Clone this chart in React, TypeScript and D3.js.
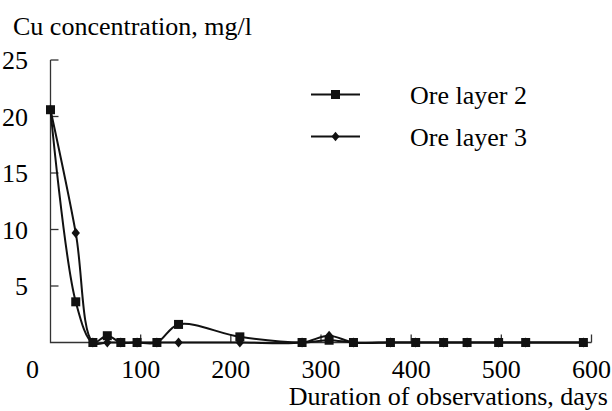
import React, { useEffect, useRef } from 'react'
import * as d3 from 'd3'

// observation days and Cu concentration, mg/l
const days = [0, 28, 47, 63, 78, 96, 118, 142, 210, 279, 309, 336, 377, 405, 436, 462, 497, 527, 591]
const layer2 = [20.6, 3.6, 0, 0.6, 0, 0, 0, 1.6, 0.5, 0, 0.2, 0, 0, 0, 0, 0, 0, 0, 0]
const layer3 = [20.6, 9.7, 0, 0, 0, 0, 0, 0, 0, 0, 0.6, 0, 0, 0, 0, 0, 0, 0, 0]

const xTicks = [0, 100, 200, 300, 400, 500, 600]
const yTicks = [5, 10, 15, 20, 25]
const seriesNames = ['Ore layer 2', 'Ore layer 3']

const W = 612
const H = 411
const x0 = 50.5, x1 = 591.5
const yBottom = 342.5, yTop = 60
const font = '"Liberation Serif", "Times New Roman", serif'
const fs = 26

const App = () => {
  const ref = useRef<SVGSVGElement>(null)

  useEffect(() => {
    if (!ref.current) return
    const svg = d3.select(ref.current)
    svg.selectAll('*').remove()

    const x = d3.scaleLinear().domain([0, 600]).range([x0, x1])
    const y = d3.scaleLinear().domain([0, 25]).range([yBottom, yTop])

    const axisColor = '#333'

    // axis lines
    svg.append('path')
      .attr('d', `M${x0},${yTop}V${yBottom}H${x1}`)
      .attr('fill', 'none')
      .attr('stroke', axisColor)
      .attr('stroke-width', 1.3)

    // y ticks (inward)
    svg.selectAll('.yt')
      .data(yTicks)
      .enter()
      .append('line')
      .attr('x1', x0)
      .attr('x2', x0 + 8)
      .attr('y1', d => y(d))
      .attr('y2', d => y(d))
      .attr('stroke', axisColor)
      .attr('stroke-width', 1.3)

    svg.selectAll('.yl')
      .data(yTicks)
      .enter()
      .append('text')
      .attr('x', 28)
      .attr('y', d => y(d))
      .attr('dy', '0.35em')
      .attr('text-anchor', 'end')
      .style('font-family', font)
      .style('font-size', fs + 'px')
      .text(d => d)

    // x ticks (inward)
    svg.selectAll('.xt')
      .data(xTicks.slice(1))
      .enter()
      .append('line')
      .attr('x1', d => x(d))
      .attr('x2', d => x(d))
      .attr('y1', yBottom)
      .attr('y2', yBottom - 8)
      .attr('stroke', axisColor)
      .attr('stroke-width', 1.3)

    svg.selectAll('.xl')
      .data(xTicks)
      .enter()
      .append('text')
      .attr('x', d => (d === 0 ? x(d) - 18 : x(d)))
      .attr('y', 378)
      .attr('text-anchor', 'middle')
      .style('font-family', font)
      .style('font-size', fs + 'px')
      .text(d => d)

    // axis titles
    svg.append('text')
      .attr('x', 13)
      .attr('y', 35)
      .style('font-family', font)
      .style('font-size', fs + 'px')
      .text('Cu concentration, mg/l')

    svg.append('text')
      .attr('x', 608)
      .attr('y', 405)
      .attr('text-anchor', 'end')
      .style('font-family', font)
      .style('font-size', fs + 'px')
      .text('Duration of observations, days')

    const curve = d3.curveCatmullRom.alpha(0.5)
    const pts2 = days.map((d, i) => [x(d), y(layer2[i])] as [number, number])
    const pts3 = days.map((d, i) => [x(d), y(layer3[i])] as [number, number])

    svg.append('path')
      .attr('d', d3.line().curve(curve)(pts3))
      .attr('fill', 'none')
      .attr('stroke', '#111')
      .attr('stroke-width', 2)

    svg.append('path')
      .attr('d', d3.line().curve(curve)(pts2))
      .attr('fill', 'none')
      .attr('stroke', '#111')
      .attr('stroke-width', 2)

    const diamond = (s: number) => `M0,${-s * 1.2}L${s},0L0,${s * 1.2}L${-s},0Z`

    svg.selectAll('.dm')
      .data(pts3)
      .enter()
      .append('path')
      .attr('d', diamond(4.2))
      .attr('transform', d => `translate(${d[0]},${d[1]})`)
      .attr('fill', '#111')

    svg.selectAll('.sq')
      .data(pts2)
      .enter()
      .append('rect')
      .attr('x', d => d[0] - 4.5)
      .attr('y', d => d[1] - 4.5)
      .attr('width', 9)
      .attr('height', 9)
      .attr('fill', '#111')

    // legend
    const lg = svg.append('g')
    seriesNames.forEach((name, i) => {
      const ly = 94.5 + i * 42
      lg.append('line')
        .attr('x1', 311).attr('x2', 360)
        .attr('y1', ly).attr('y2', ly)
        .attr('stroke', '#111')
        .attr('stroke-width', 2)
      if (i === 0) {
        lg.append('rect')
          .attr('x', 331).attr('y', ly - 4.5)
          .attr('width', 9).attr('height', 9)
          .attr('fill', '#111')
      } else {
        lg.append('path')
          .attr('d', diamond(4))
          .attr('transform', `translate(335.5,${ly})`)
          .attr('fill', '#111')
      }
      lg.append('text')
        .attr('x', 410)
        .attr('y', ly)
        .attr('dy', '0.35em')
        .style('font-family', font)
        .style('font-size', fs + 'px')
        .text(name)
    })
  }, [])

  return (
    <svg
      ref={ref}
      width={W}
      height={H}
      style={{ position: 'absolute', left: 0, top: 0, background: '#fff' }}
    ></svg>
  )
}

export default App
